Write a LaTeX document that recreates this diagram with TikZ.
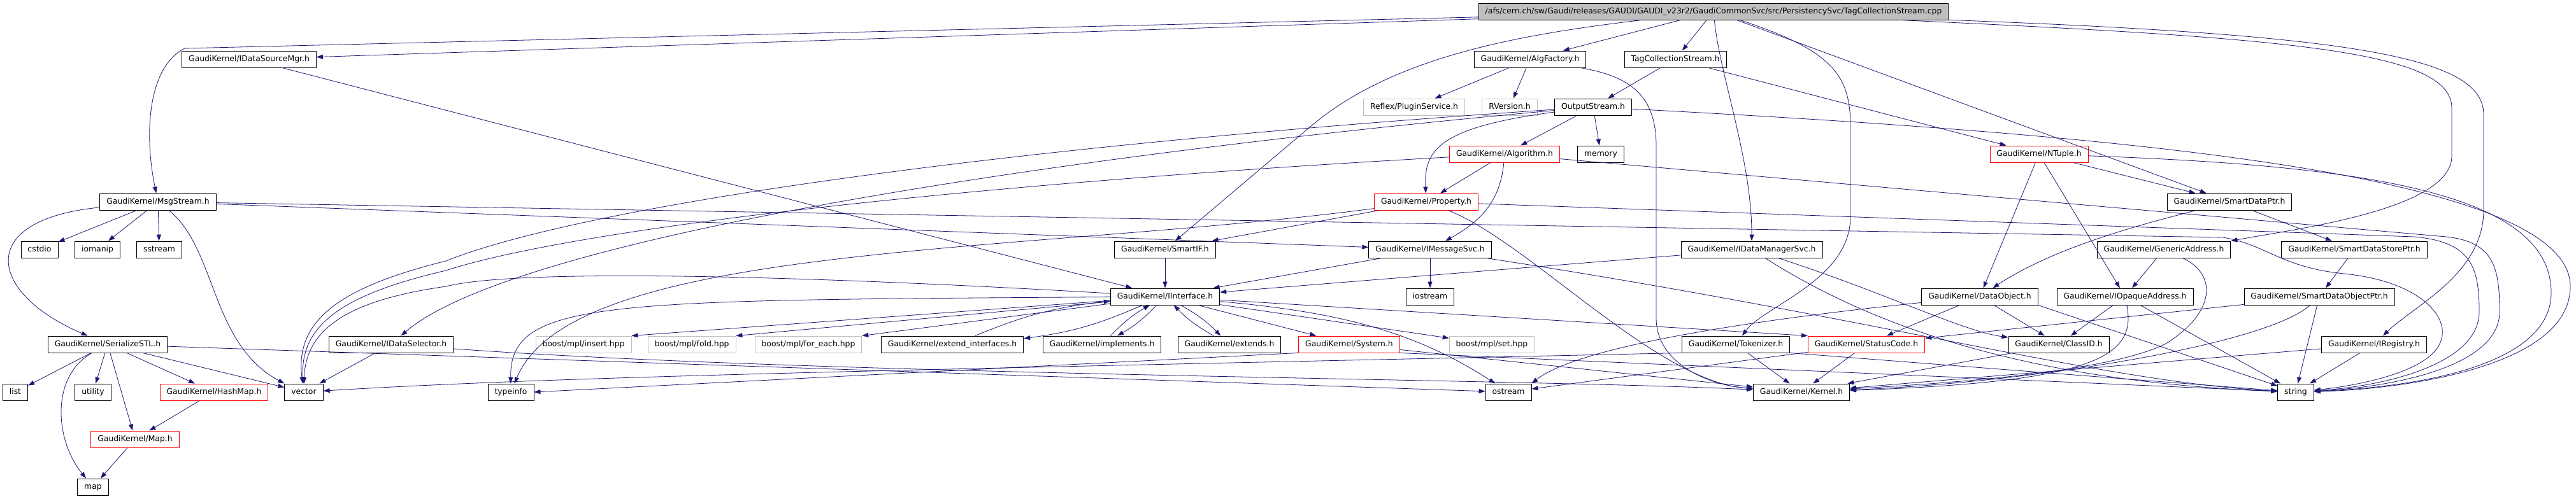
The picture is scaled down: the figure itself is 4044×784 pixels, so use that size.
\documentclass[tikz,border=0pt]{standalone}
\usepackage{fontspec}
\newfontfamily\filefont{DejaVu Sans}
\usetikzlibrary{arrows.meta}

\definecolor{edgeblue}{RGB}{25,25,112}
\definecolor{boxgray}{RGB}{191,191,191}

\tikzset{
  file/.style={draw=black, fill=white, line width=0.9pt, minimum height=26pt,
    inner xsep=10.5pt, inner ysep=0pt, text height=9.5pt, text depth=3pt,
    font=\filefont\fontsize{12.4pt}{14pt}\selectfont},
  redfile/.style={file, draw=red},
  sysfile/.style={file, draw=boxgray},
  rootfile/.style={file, fill=boxgray},
  dep/.style={->, draw=edgeblue, line width=0.8pt},
  >={Triangle[length=10pt,width=7pt]}
}

\begin{document}
\begin{tikzpicture}[x=1pt, y=-1pt]
        \useasboundingbox (0,0) rectangle (4044,784);

        % Draw the file boxes, row by row
        \node[rootfile] (root) at (2690,18) {/afs/cern.ch/sw/Gaudi/releases/GAUDI/GAUDI\_v23r2/GaudiCommonSvc/src/PersistencySvc/TagCollectionStream.cpp};

        \node[file] (dsmgr) at (391,93) {GaudiKernel/IDataSourceMgr.h};
        \node[file] (algfac) at (2402,93) {GaudiKernel/AlgFactory.h};
        \node[file] (tagh) at (2630,93) {TagCollectionStream.h};

        \node[sysfile] (plugin) at (2220,168) {Reflex/PluginService.h};
        \node[sysfile] (rversion) at (2370,168) {RVersion.h};
        \node[file] (outstream) at (2501,168) {OutputStream.h};

        \node[redfile] (algo) at (2362,242) {GaudiKernel/Algorithm.h};
        \node[file] (memory) at (2513,242) {memory};
        \node[redfile] (ntuple) at (3201,242) {GaudiKernel/NTuple.h};

        \node[file] (msgstream) at (248,317) {GaudiKernel/MsgStream.h};
        \node[redfile] (property) at (2239,317) {GaudiKernel/Property.h};
        \node[file] (sdataptr) at (3500,317) {GaudiKernel/SmartDataPtr.h};

        \node[file] (cstdio) at (62,392) {cstdio};
        \node[file] (iomanip) at (153,392) {iomanip};
        \node[file] (sstream) at (250,392) {sstream};
        \node[file] (smartif) at (1829,392) {GaudiKernel/SmartIF.h};
        \node[file] (imsgsvc) at (2245,392) {GaudiKernel/IMessageSvc.h};
        \node[file] (idmsvc) at (2750,392) {GaudiKernel/IDataManagerSvc.h};
        \node[file] (genaddr) at (3397,392) {GaudiKernel/GenericAddress.h};
        \node[file] (sdstore) at (3696,392) {GaudiKernel/SmartDataStorePtr.h};

        \node[file] (iiface) at (1829,466) {GaudiKernel/IInterface.h};
        \node[file] (iostream) at (2245,466) {iostream};
        \node[file] (dataobj) at (3108,466) {GaudiKernel/DataObject.h};
        \node[file] (iopaque) at (3336,466) {GaudiKernel/IOpaqueAddress.h};
        \node[file] (sdobj) at (3641,466) {GaudiKernel/SmartDataObjectPtr.h};

        \node[file] (serial) at (169,541) {GaudiKernel/SerializeSTL.h};
        \node[file] (idsel) at (614,541) {GaudiKernel/IDataSelector.h};
        \node[sysfile] (mplins) at (916,541) {boost/mpl/insert.hpp};
        \node[sysfile] (mplfold) at (1086,541) {boost/mpl/fold.hpp};
        \node[sysfile] (mplfor) at (1269,541) {boost/mpl/for\_each.hpp};
        \node[file] (extif) at (1495,541) {GaudiKernel/extend\_interfaces.h};
        \node[file] (impl) at (1730,541) {GaudiKernel/implements.h};
        \node[file] (extends) at (1930,541) {GaudiKernel/extends.h};
        \node[redfile] (system) at (2118,541) {GaudiKernel/System.h};
        \node[sysfile] (mplset) at (2342,541) {boost/mpl/set.hpp};
        \node[file] (tokenizer) at (2725,541) {GaudiKernel/Tokenizer.h};
        \node[redfile] (statuscode) at (2930,541) {GaudiKernel/StatusCode.h};
        \node[file] (classid) at (3232,541) {GaudiKernel/ClassID.h};
        \node[file] (iregistry) at (3727,541) {GaudiKernel/IRegistry.h};

        \node[file] (list) at (24,616) {list};
        \node[file] (utility) at (146,616) {utility};
        \node[redfile] (hashmap) at (336,616) {GaudiKernel/HashMap.h};
        \node[file] (vector) at (477,616) {vector};
        \node[file] (typeinfo) at (802,616) {typeinfo};
        \node[file] (ostream) at (2368,616) {ostream};
        \node[file] (kernel) at (2828,616) {GaudiKernel/Kernel.h};
        \node[file] (string) at (3604,616) {string};

        \node[redfile] (maph) at (212,690) {GaudiKernel/Map.h};
        \node[file] (map) at (146,765) {map};

        % Draw the straight include arrows
        \foreach \a/\b in {root/dsmgr, root/algfac, root/tagh, root/sdataptr,
          dsmgr/iiface, algfac/plugin, algfac/rversion, tagh/outstream, tagh/ntuple,
          outstream/algo, outstream/memory, algo/property,
          ntuple/dataobj, ntuple/iopaque, ntuple/sdataptr,
          msgstream/cstdio, msgstream/iomanip, msgstream/sstream, msgstream/imsgsvc,
          property/smartif, sdataptr/sdstore, smartif/iiface, imsgsvc/iiface,
          imsgsvc/iostream, idmsvc/iiface, genaddr/iopaque, sdstore/sdobj,
          iiface/system, iiface/mplset, dataobj/statuscode, dataobj/classid,
          iopaque/classid, iopaque/string, sdobj/statuscode, sdobj/string,
          serial/list, serial/utility, serial/hashmap, serial/maph, serial/vector,
          serial/ostream, idsel/vector, system/kernel, tokenizer/kernel,
          statuscode/kernel, statuscode/ostream, classid/kernel,
          iregistry/string, iregistry/kernel, hashmap/maph, maph/map}
        {
          \draw[dep] (\a) -- (\b);
        }

        % IInterface and the headers that include it back
        \foreach \f in {extif, impl, extends}
        {
          \draw[dep] (iiface) to[bend left=8] (\f);
          \draw[dep] (\f) to[bend left=8] (iiface);
        }
        \foreach \f in {mplins, mplfold, mplfor}
        {
          \draw[dep] (iiface) -- (\f.north east);
        }
        \draw[dep] (iiface) -- (statuscode.north west);
        \draw[dep] (iiface) .. controls (950,472) and (800,470) .. (typeinfo);
        \draw[dep] (iiface) .. controls (1300,435) and (820,420) .. (700,450) .. controls (560,470) and (480,510) .. (vector);
        \draw[dep] (iiface) .. controls (2100,490) and (2220,520) .. (ostream);

        % Long arrows out of the source file
        \draw[dep] (root) -- (290,76) .. controls (232,105) and (226,210) .. (msgstream);
        \draw[dep] (root) .. controls (2380,55) and (2180,90) .. (2050,205) -- (smartif);
        \draw[dep] (root) .. controls (2700,120) and (2750,250) .. (idmsvc);
        \draw[dep] (root) .. controls (2880,80) and (2905,120) .. (2905,200) -- (2905,340) .. controls (2905,440) and (2770,480) .. (tokenizer);
        \draw[dep] (root) .. controls (3600,60) and (3849,80) .. (3849,170) -- (3849,245) .. controls (3849,330) and (3600,360) .. (genaddr.north east);
        \draw[dep] (root) .. controls (3700,55) and (3899,90) .. (3899,180) -- (3899,330) .. controls (3899,430) and (3790,480) .. (iregistry);

        % AlgFactory, OutputStream and Algorithm
        \draw[dep] (algfac) .. controls (2560,120) and (2600,150) .. (2600,230) -- (2600,500) .. controls (2600,570) and (2680,605) .. (kernel);
        \draw[dep] (outstream) .. controls (2260,200) and (2235,235) .. (property);
        \draw[dep] (outstream) .. controls (1600,250) and (800,380) .. (idsel);
        \draw[dep] (outstream) .. controls (1500,235) and (900,330) .. (700,410) .. controls (540,450) and (462,500) .. (vector);
        \draw[dep] (outstream) .. controls (3300,210) and (4035,270) .. (4035,450) .. controls (4035,580) and (3760,612) .. (string);
        \draw[dep] (algo) .. controls (2355,320) and (2320,350) .. (imsgsvc);
        \draw[dep] (algo) .. controls (1500,290) and (900,360) .. (700,425) .. controls (550,460) and (470,505) .. (vector);
        \draw[dep] (algo) -- (3840,372) .. controls (3915,380) and (3924,420) .. (3924,490) .. controls (3924,575) and (3760,608) .. (string);

        % Property and MsgStream
        \draw[dep] (property) .. controls (1600,400) and (900,380) .. (typeinfo);
        \draw[dep] (property) .. controls (2400,380) and (2600,600) .. (kernel);
        \draw[dep] (property) -- (3790,372) .. controls (3880,380) and (3892,420) .. (3892,490) .. controls (3892,570) and (3750,606) .. (string);
        \draw[dep] (msgstream) .. controls (-40,345) and (-20,460) .. (serial);
        \draw[dep] (msgstream) .. controls (340,390) and (330,540) .. (vector.north west);
        \draw[dep] (msgstream) -- (3490,373) .. controls (3560,385) and (3580,420) .. (3680,430) .. controls (3800,442) and (3850,500) .. (3830,540) .. controls (3810,585) and (3700,606) .. (string);

        % Right half of the graph
        \draw[dep] (ntuple) .. controls (3700,260) and (4005,300) .. (4005,460) .. controls (4005,585) and (3755,610) .. (string);
        \draw[dep] (sdataptr) .. controls (3380,348) and (3230,385) .. (dataobj);
        \draw[dep] (idmsvc) .. controls (2960,460) and (3080,520) .. (classid);
        \draw[dep] (idmsvc) .. controls (2950,520) and (3200,600) .. (string);
        \draw[dep] (imsgsvc) .. controls (2950,500) and (3300,600) .. (string);
        \draw[dep] (dataobj) .. controls (2700,508) and (2470,550) .. (ostream.north east);
        \draw[dep] (dataobj.south east) -- (string);
        \draw[dep] (iopaque) .. controls (3355,560) and (3290,600) .. (kernel);
        \draw[dep] (genaddr) .. controls (3480,430) and (3480,490) .. (3400,540) .. controls (3300,590) and (3000,605) .. (kernel);
        \draw[dep] (sdobj) .. controls (3560,540) and (3200,600) .. (kernel);

        % Lower rows
        \draw[dep] (serial) .. controls (80,590) and (85,690) .. (map);
        \draw[dep] (idsel) .. controls (1300,590) and (2400,595) .. (kernel);
        \draw[dep] (system.south west) -- (typeinfo.east);
        \draw[dep] (system.south east) -- (string);
        \draw[dep] (tokenizer.south west) .. controls (1500,580) and (900,590) .. (vector);
        \draw[dep] (tokenizer.south east) -- (string);
      \end{tikzpicture}
\end{document}
